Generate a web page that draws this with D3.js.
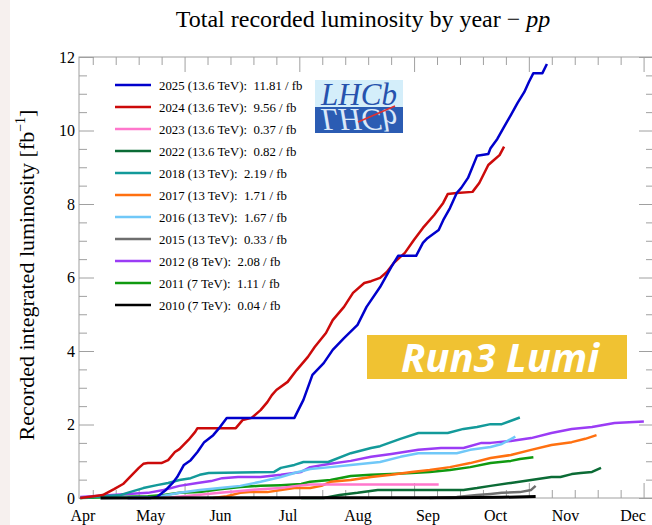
<!DOCTYPE html>
<html>
<head>
<meta charset="utf-8">
<script src="https://cdn.jsdelivr.net/npm/d3@7"></script>
<style>
  body { margin: 0; background: #fff; }
  svg { display: block; }
</style>
</head>
<body>
<svg id="chart" width="652" height="525"></svg>
<script>
// legend categories
var years    = ["2025", "2024", "2023", "2022", "2018", "2017", "2016", "2015", "2012", "2011", "2010"];
var energies = ["13.6", "13.6", "13.6", "13.6", "13", "13", "13", "13", "8", "7", "7"];
var totals   = ["11.81", "9.56", "0.37", "0.82", "2.19", "1.71", "1.67", "0.33", "2.08", "1.11", "0.04"];

// cumulative luminosity [fb^-1] by date (MM-DD)
var lumi2025 = [["04-21",0],["05-01",0],["05-04",0.03],["05-08",0.22],["05-11",0.41],["05-13",0.57],["05-16",0.90],
  ["05-19",1.03],["05-22",1.25],["05-25",1.52],["05-29",1.71],["06-01",1.93],["06-04",2.18],["07-04",2.18],
  ["07-08",2.67],["07-12",3.35],["07-17",3.67],["07-21",4.03],["07-26",4.35],["08-01",4.71],["08-05",5.20],
  ["08-11",5.74],["08-16",6.29],["08-19",6.59],["08-27",6.59],["08-30",6.94],["09-01",7.07],["09-06",7.29],
  ["09-08",7.56],["09-11",7.89],["09-14",8.30],["09-16",8.44],["09-19",8.71],["09-23",9.31],["09-28",9.36],
  ["09-29",9.52],["10-02",9.77],["10-05",10.10],["10-08",10.42],["10-11",10.75],["10-14",11.05],["10-16",11.32],
  ["10-18",11.56],["10-22",11.56],["10-24",11.81]];
var lumi2024 = [["03-31",0],["04-06",0.05],["04-10",0.08],["04-15",0.24],["04-19",0.38],["04-22",0.57],["04-26",0.82],
  ["04-28",0.93],["04-30",0.95],["05-06",0.95],["05-09",1.03],["05-12",1.25],["05-14",1.33],["05-18",1.58],
  ["05-21",1.80],["05-22",1.90],["06-08",1.90],["06-11",2.12],["06-15",2.18],["06-19",2.39],["06-22",2.61],
  ["06-24",2.80],["06-26",2.94],["07-01",3.16],["07-05",3.48],["07-10",3.84],["07-13",4.11],["07-18",4.49],
  ["07-21",4.84],["07-26",5.20],["07-30",5.58],["08-04",5.85],["08-07",5.90],["08-11",5.99],["08-14",6.15],
  ["08-17",6.39],["08-20",6.56],["08-22",6.67],["08-26",7.02],["08-30",7.35],["09-04",7.70],["09-08",8.03],
  ["09-10",8.27],["09-14",8.30],["09-21",8.33],["09-24",8.57],["09-28",9.06],["09-30",9.17],["10-03",9.33],
  ["10-05",9.56]];
var lumi2023 = [["05-07",0],["05-22",0.08],["06-01",0.14],["06-10",0.19],["06-19",0.24],["06-28",0.27],["07-05",0.33],
  ["07-11",0.37],["09-06",0.37]];
var lumi2022 = [["07-07",0],["07-17",0],["07-24",0.08],["08-01",0.14],["08-10",0.22],["09-17",0.22],["09-23",0.27],
  ["09-29",0.33],["10-08",0.41],["10-17",0.49],["10-26",0.57],["10-30",0.57],["11-04",0.65],["11-08",0.68],
  ["11-13",0.71],["11-17",0.82]];
var lumi2018 = [["03-31",0],["04-18",0.08],["04-22",0.16],["04-28",0.27],["05-04",0.35],["05-09",0.41],["05-14",0.49],
  ["05-19",0.54],["05-23",0.63],["05-27",0.68],["06-25",0.71],["06-28",0.82],["07-04",0.90],["07-08",0.98],
  ["07-19",0.98],["07-29",1.22],["08-07",1.36],["08-11",1.41],["08-20",1.61],["08-28",1.77],["09-10",1.77],
  ["09-17",1.88],["09-23",1.93],["09-29",2.01],["10-04",2.01],["10-12",2.19]];
var lumi2017 = [["05-29",0],["06-04",0.05],["06-10",0.14],["06-14",0.16],["06-22",0.16],["06-28",0.22],["07-04",0.27],
  ["07-11",0.27],["07-16",0.33],["07-20",0.44],["07-29",0.49],["08-07",0.57],["08-16",0.63],["08-25",0.71],
  ["09-02",0.76],["09-11",0.84],["09-20",0.95],["09-29",1.09],["10-08",1.17],["10-17",1.31],["10-26",1.44],
  ["11-04",1.52],["11-10",1.61],["11-15",1.71]];
var lumi2016 = [["04-09",0],["05-04",0.03],["05-14",0.14],["05-23",0.22],["06-01",0.27],["06-10",0.33],["06-19",0.44],
  ["06-28",0.57],["07-04",0.68],["07-11",0.79],["07-20",0.84],["07-29",0.90],["08-11",0.98],["08-20",1.12],
  ["08-28",1.22],["09-14",1.22],["09-20",1.31],["09-29",1.39],["10-04",1.47],["10-10",1.67]];
var lumi2015 = [["09-02",0],["09-14",0.03],["09-23",0.08],["09-29",0.11],["10-04",0.14],["10-12",0.16],["10-17",0.22],
  ["10-19",0.33]];
var lumi2012 = [["03-31",0.03],["04-30",0.14],["05-07",0.22],["05-14",0.33],["05-22",0.41],["05-28",0.46],["06-02",0.54],
  ["06-09",0.57],["06-19",0.57],["06-28",0.63],["07-07",0.71],["07-11",0.84],["07-20",0.93],["07-29",1.01],
  ["08-07",1.12],["08-16",1.20],["08-28",1.31],["09-07",1.36],["09-17",1.36],["09-25",1.50],["09-29",1.50],
  ["10-08",1.55],["10-17",1.63],["10-26",1.77],["11-04",1.88],["11-13",1.93],["11-23",2.04],["12-06",2.08]];
var lumi2011 = [["03-31",0],["04-15",0.03],["04-30",0.05],["05-07",0.08],["05-14",0.14],["05-23",0.16],["06-01",0.24],
  ["06-10",0.30],["06-19",0.33],["06-28",0.35],["07-07",0.38],["07-11",0.44],["07-20",0.49],["07-29",0.60],
  ["08-07",0.63],["08-16",0.65],["08-25",0.68],["09-02",0.71],["09-11",0.76],["09-20",0.84],["09-29",0.95],
  ["10-08",1.01],["10-12",1.06],["10-18",1.11]];
var lumi2010 = [["04-09",0],["07-07",0.005],["09-11",0.01],["10-04",0.02],["10-19",0.04]];

var monthLabels = ["Apr", "May", "Jun", "Jul", "Aug", "Sep", "Oct", "Nov", "Dec"];
var yTicks = [0, 2, 4, 6, 8, 10, 12];

// styles
var colors = ["#0000cc", "#cc0a0a", "#ff77cc", "#0b6b35", "#139a9a", "#ff7010",
              "#70c8f8", "#6e6e6e", "#9b3cf5", "#109a10", "#000000"];
var seriesData = [lumi2025, lumi2024, lumi2023, lumi2022, lumi2018, lumi2017,
                  lumi2016, lumi2015, lumi2012, lumi2011, lumi2010];
// draw order: older years first, 2010 on top along the baseline
var drawOrder = [9, 8, 7, 6, 5, 4, 3, 2, 1, 0, 10];

var serif = "'Liberation Serif', 'Times New Roman', serif";
var axisGray = "#a0a0a0";

var parseDay = d3.timeParse("%Y-%m-%d");
var toPoints = function(arr) {
    return arr.map(function(p) { return {date: parseDay("2025-" + p[0]), value: p[1]}; });
};

var svg = d3.select("#chart");

var x = d3.scaleTime()
    .domain([new Date(2025, 2, 30, 11), new Date(2025, 11, 10, 12)])
    .range([79, 654]);
var y = d3.scaleLinear().domain([0, 12]).range([498, 57]);

// faint slide background on the left edge
svg.append("rect").attr("x", 0).attr("y", 0).attr("width", 10).attr("height", 525)
    .attr("fill", "#f6f0ee");

// title
var title = svg.append("text")
    .attr("x", 363).attr("y", 27)
    .attr("text-anchor", "middle")
    .style("font-family", serif).style("font-size", "24px")
    .text("Total recorded luminosity by year \u2212 ");
title.append("tspan").style("font-style", "italic").text("pp");

// y label
var ylab = svg.append("text")
    .attr("transform", "translate(34,275)rotate(-90)")
    .attr("text-anchor", "middle")
    .style("font-family", serif).style("font-size", "22px")
    .text("Recorded integrated luminosity [fb");
ylab.append("tspan").attr("dy", -9).style("font-size", "14px").text("\u22121");
ylab.append("tspan").attr("dy", 9).text("]");

// tick positions along the time axis (ROOT style divisions, every ~10.2 days)
var tickStep = 10.18 * 864e5;
var tickAnchor = new Date(2025, 7, 26, 2).getTime();
var allTicks = d3.range(-20, 21).map(function(k) { return {k: k, date: new Date(tickAnchor + k * tickStep)}; })
    .filter(function(t) { return t.date > x.domain()[0] && t.date < x.domain()[1]; });
var minorX = allTicks.filter(function(t) { return t.k % 5 !== 0; }).map(function(t) { return t.date; });
var majorX = allTicks.filter(function(t) { return t.k % 5 === 0; }).map(function(t) { return t.date; });
var minorY = d3.range(0.5, 12, 0.5).filter(function(v) { return v % 2 !== 0; });

var styleAxis = function(g) {
    g.select(".domain").remove();
    g.selectAll(".tick line").attr("stroke", axisGray);
    g.selectAll(".tick text").attr("fill", "#000")
        .style("font-family", serif).style("font-size", "16px");
};

svg.append("g").attr("transform", "translate(0,498)")
    .call(d3.axisBottom(x).tickValues(minorX).tickSize(-8).tickFormat("")).call(styleAxis);
svg.append("g").attr("transform", "translate(0,498)")
    .call(d3.axisBottom(x).tickValues(majorX).tickSize(-15).tickFormat("")).call(styleAxis);
svg.append("g").attr("transform", "translate(0,57)")
    .call(d3.axisTop(x).tickValues(minorX).tickSize(-8).tickFormat("")).call(styleAxis);
svg.append("g").attr("transform", "translate(0,57)")
    .call(d3.axisTop(x).tickValues(majorX).tickSize(-15).tickFormat("")).call(styleAxis);

// month labels
var monthDates = monthLabels.map(function(m, i) { return new Date(2025, 3 + i, 1); });
svg.append("g").attr("transform", "translate(0,498)")
    .call(d3.axisBottom(x).tickValues(monthDates).tickSize(0).tickPadding(12)
        .tickFormat(function(d, i) { return monthLabels[i]; }))
    .call(styleAxis);

svg.append("g").attr("transform", "translate(79,0)")
    .call(d3.axisLeft(y).tickValues(minorY).tickSize(-8).tickFormat("")).call(styleAxis);
svg.append("g").attr("transform", "translate(79,0)")
    .call(d3.axisLeft(y).tickValues(yTicks).tickSize(-15).tickPadding(4).tickFormat(d3.format("d")))
    .call(styleAxis);
svg.append("g").attr("transform", "translate(654,0)")
    .call(d3.axisRight(y).tickValues(minorY).tickSize(-8).tickFormat("")).call(styleAxis);
svg.append("g").attr("transform", "translate(654,0)")
    .call(d3.axisRight(y).tickValues(yTicks).tickSize(-15).tickFormat("")).call(styleAxis);

// frame
svg.append("rect")
    .attr("x", x.range()[0]).attr("y", y.range()[1])
    .attr("width", x.range()[1] - x.range()[0]).attr("height", y.range()[0] - y.range()[1])
    .attr("fill", "none").attr("stroke", axisGray);

// LHCb logo
var logo = svg.append("g");
logo.append("rect").attr("x", 315).attr("y", 80).attr("width", 88).attr("height", 27).attr("fill", "#d4eefa");
logo.append("rect").attr("x", 315).attr("y", 107).attr("width", 88).attr("height", 26).attr("fill", "#2b5cb3");
logo.append("text").attr("x", 359).attr("y", 105).attr("text-anchor", "middle")
    .style("font-family", serif).style("font-style", "italic").style("font-size", "31px")
    .attr("fill", "#2652ad").text("LHCb");
// mirrored reflection of the logo word
logo.append("text").attr("x", 359).attr("y", 105).attr("text-anchor", "middle")
    .attr("transform", "translate(0,214)scale(1,-1)")
    .style("font-family", serif).style("font-style", "italic").style("font-size", "31px")
    .attr("fill", "#dbe8f8").text("LHCb");
logo.append("line").attr("x1", 358).attr("y1", 122).attr("x2", 395).attr("y2", 106)
    .attr("stroke", "#e03030").attr("stroke-width", 1.5);

// curves
var line = d3.line()
    .x(function(d) { return x(d.date); })
    .y(function(d) { return y(d.value); });

svg.append("g").selectAll("path")
    .data(drawOrder)
    .enter().append("path")
    .attr("d", function(i) { return line(toPoints(seriesData[i])); })
    .attr("fill", "none")
    .attr("stroke", function(i) { return colors[i]; })
    .attr("stroke-width", function(i) { return i === 10 ? 3 : 2.5; })
    .attr("stroke-linejoin", "round");

// legend
var legend = svg.append("g");
var rows = legend.selectAll("g").data(years)
    .enter().append("g")
    .attr("transform", function(d, i) { return "translate(0," + (85 + i * 22) + ")"; });
rows.append("line")
    .attr("x1", 115).attr("x2", 151)
    .attr("stroke", function(d, i) { return colors[i]; })
    .attr("stroke-width", 2.5);
rows.append("text")
    .attr("x", 159).attr("y", 4.5)
    .attr("xml:space", "preserve")
    .style("white-space", "pre")
    .style("font-family", serif).style("font-size", "12.8px")
    .text(function(d, i) { return d + " (" + energies[i] + " TeV):  " + totals[i] + " / fb"; });

// Run3 Lumi banner
svg.append("rect").attr("x", 367).attr("y", 335).attr("width", 260).attr("height", 44).attr("fill", "#f0c232");
svg.append("text").attr("x", 500).attr("y", 372).attr("text-anchor", "middle")
    .style("font-family", "'Open Sans', 'Noto Sans', sans-serif")
    .style("font-weight", "bold").style("font-style", "italic").style("font-size", "40px")
    .attr("fill", "#fff").text("Run3 Lumi");
</script>
</body>
</html>
